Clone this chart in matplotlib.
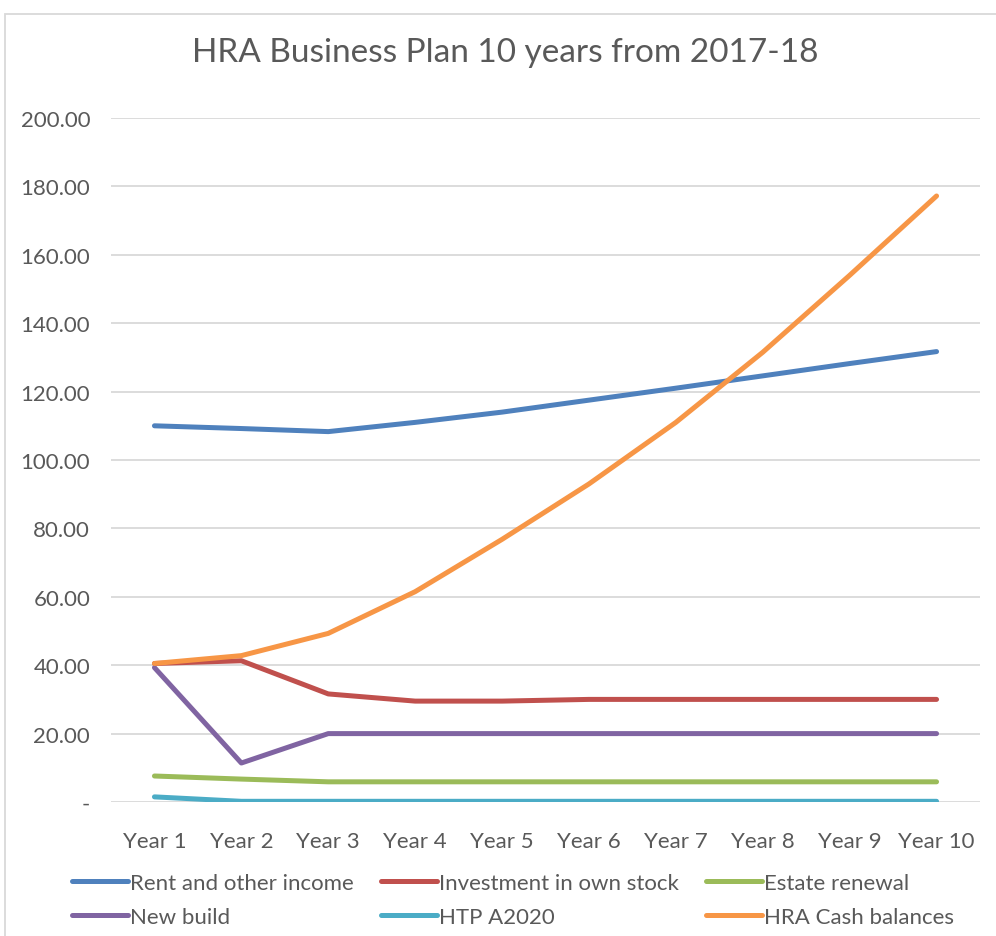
import matplotlib.pyplot as plt
from matplotlib.patches import Rectangle

plt.rcParams['font.family'] = ['Lato', 'DejaVu Sans']

years = ["Year 1", "Year 2", "Year 3", "Year 4", "Year 5",
         "Year 6", "Year 7", "Year 8", "Year 9", "Year 10"]

rent_income = [110.0, 109.2, 108.3, 111.0, 114.0, 117.5, 121.0, 124.6, 128.2, 131.7]
investment_stock = [40.5, 41.3, 31.6, 29.5, 29.5, 30.0, 30.0, 30.0, 30.0, 30.0]
estate_renewal = [7.6, 6.7, 5.9, 5.9, 5.9, 5.9, 5.9, 5.9, 5.9, 5.9]
new_build = [39.3, 11.4, 20.0, 20.0, 20.0, 20.0, 20.0, 20.0, 20.0, 20.0]
htp_a2020 = [1.5, 0.2, 0.2, 0.2, 0.2, 0.2, 0.2, 0.2, 0.2, 0.2]
cash_balances = [40.5, 42.8, 49.3, 61.5, 76.8, 93.0, 111.0, 131.5, 154.0, 177.2]

series = [
    ("Rent and other income", rent_income, "#4F81BD"),
    ("Investment in own stock", investment_stock, "#C0504D"),
    ("Estate renewal", estate_renewal, "#9BBB59"),
    ("New build", new_build, "#8064A2"),
    ("HTP A2020", htp_a2020, "#4BACC6"),
    ("HRA Cash balances", cash_balances, "#F79646"),
]

text_col = "#595959"

fig = plt.figure(figsize=(9.96, 9.37), dpi=100)
ax = fig.add_axes([111 / 996, 1 - 803 / 937, 869 / 996, 684 / 937])

x = list(range(1, len(years) + 1))
lines = {}
for name, vals, col in series:
    ln, = ax.plot(x, vals, color=col, lw=3.6, solid_capstyle='round',
                  solid_joinstyle='round', label=name)
    lines[name] = ln

ax.set_xlim(0.5, 10.5)
ax.set_ylim(0, 200)
ax.set_yticks(range(0, 201, 20))
ax.set_yticklabels(["-"] + [f"{v:.2f}" for v in range(20, 201, 20)])
ax.set_xticks(x)
ax.set_xticklabels(years)
ax.tick_params(axis='both', length=0, labelsize=16, colors=text_col)
ax.tick_params(axis='y', pad=15)
ax.tick_params(axis='x', pad=21)
ax.grid(axis='y', color="#D9D9D9", lw=1.3)
ax.set_axisbelow(True)
for s in ax.spines.values():
    s.set_visible(False)

fig.text(505 / 996, 1 - 53 / 937, "HRA Business Plan 10 years from 2017-18",
         ha='center', va='center', fontsize=24, color=text_col)

# chart area border
fig.patches.append(Rectangle((5 / 996, -0.01), 1.0, 1 - 15 / 937 + 0.01,
                             transform=fig.transFigure, fill=False,
                             edgecolor="#D9D9D9", lw=1.3))

order = ["Rent and other income", "New build", "Investment in own stock",
         "HTP A2020", "Estate renewal", "HRA Cash balances"]
fig.legend([lines[n] for n in order], order, ncol=3, frameon=False,
           loc='center', bbox_to_anchor=(513 / 996, 1 - 901 / 937),
           fontsize=16, labelcolor=text_col, handlelength=2.5,
           handletextpad=0.1, columnspacing=1.24, labelspacing=0.65)

fig.savefig("out.png", dpi=100)
